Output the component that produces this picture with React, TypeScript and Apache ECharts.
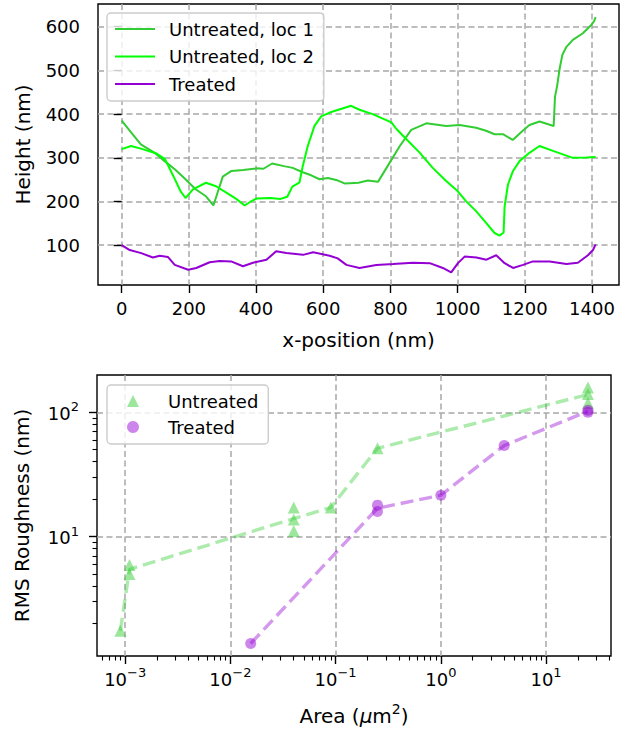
import React, { useEffect, useRef } from "react";
import * as echarts from "echarts";

// ---------- Top chart: height profiles ----------
const xTicksTop = [0, 200, 400, 600, 800, 1000, 1200, 1400];
const yTicksTop = [100, 200, 300, 400, 500, 600];

const untreatedLoc1: [number, number][] = [
  [0, 385], [28, 358], [57, 331], [97, 312], [127, 293], [158, 274], [190, 251],
  [220, 228], [251, 212], [273, 191], [287, 224], [301, 257], [327, 270], [362, 272],
  [402, 276], [422, 275], [448, 287], [483, 281], [509, 277], [539, 267], [564, 260],
  [589, 251], [614, 254], [644, 248], [665, 241], [705, 243], [733, 248], [763, 245],
  [798, 289], [828, 327], [862, 364], [907, 379], [966, 373], [1006, 375], [1055, 369],
  [1085, 362], [1110, 354], [1135, 354], [1164, 341], [1194, 362], [1214, 375],
  [1244, 383], [1286, 373], [1290, 440], [1296, 463], [1304, 505], [1312, 536],
  [1324, 554], [1343, 570], [1373, 585], [1398, 604], [1406, 612], [1411, 622],
];

const untreatedLoc2: [number, number][] = [
  [0, 320], [28, 327], [57, 321], [104, 310], [129, 297], [154, 258], [175, 224],
  [190, 208], [212, 228], [251, 243], [281, 235], [321, 216], [341, 206], [366, 191],
  [382, 199], [402, 207], [442, 208], [473, 206], [493, 211], [508, 234], [529, 243],
  [539, 281], [554, 327], [574, 373], [594, 395], [624, 405], [683, 419], [708, 410],
  [747, 400], [803, 381], [818, 366], [847, 343], [887, 312], [926, 277], [966, 247],
  [1000, 224], [1025, 201], [1055, 178], [1085, 151], [1110, 128], [1125, 122],
  [1137, 129], [1140, 189], [1150, 239], [1165, 270], [1185, 293], [1215, 312],
  [1244, 327], [1284, 316], [1343, 300], [1383, 301], [1411, 302],
];

const treatedProfile: [number, number][] = [
  [0, 100], [24, 89], [58, 82], [93, 72], [113, 76], [138, 73], [158, 55], [198, 44],
  [222, 48], [262, 61], [292, 64], [326, 63], [361, 52], [391, 60], [431, 67], [460, 86],
  [490, 82], [540, 78], [570, 84], [619, 76], [643, 70], [669, 55], [708, 48], [758, 55],
  [808, 57], [867, 60], [917, 59], [956, 48], [981, 38], [1001, 59], [1021, 74],
  [1056, 72], [1086, 67], [1115, 77], [1140, 59], [1165, 48], [1195, 55], [1224, 63],
  [1274, 63], [1324, 57], [1358, 60], [1388, 77], [1403, 89], [1411, 102],
];

// ---------- Bottom chart: RMS roughness vs area ----------
const untreatedArea = [0.0009, 0.0011, 0.0011, 0.04, 0.04, 0.04, 0.09, 0.25, 25, 25, 25];
const untreatedRms = [1.75, 5.9, 5.0, 17.1, 13.7, 11.1, 17.1, 51.3, 158, 140, 119];
const treatedArea = [0.0156, 0.25, 0.25, 1, 4, 25, 25];
const treatedRms = [1.38, 17.9, 15.9, 21.5, 54, 104, 100];

const areaMajorTicks = [0.001, 0.01, 0.1, 1, 10];
const rmsMajorTicks = [10, 100];
const minorMultipliers = [2, 3, 4, 5, 6, 7, 8, 9];
const areaDecades = [0.0001, 0.001, 0.01, 0.1, 1, 10];
const rmsDecades = [1, 10, 100];

const FONT = "DejaVu Sans";

function minorTicks(decades: number[]): number[] {
  const out: number[] = [];
  decades.forEach((d) => minorMultipliers.forEach((m) => out.push(+(d * m).toPrecision(6))));
  return out;
}

function groupMeans(xs: number[], ys: number[]): [number, number][] {
  const m = new Map<number, number[]>();
  xs.forEach((x, i) => {
    if (!m.has(x)) m.set(x, []);
    m.get(x)!.push(ys[i]);
  });
  return [...m.entries()]
    .sort((a, b) => a[0] - b[0])
    .map(([x, v]) => [x, v.reduce((s, a) => s + a, 0) / v.length] as [number, number]);
}

function pow10Label(v: number): string {
  const e = Math.round(Math.log10(v));
  const es = e < 0 ? "\u2212" + String(-e) : String(e);
  return `{b|10}{s|${es}}`;
}

const supRich = {
  b: { fontSize: 18, fontFamily: FONT, color: "#000", verticalAlign: "bottom" as const, lineHeight: 20 },
  s: { fontSize: 13, fontFamily: FONT, color: "#000", verticalAlign: "bottom" as const, lineHeight: 14, padding: [0, 0, 9, 0] },
};

const gridLine = { show: true, lineStyle: { color: "#a8a8a8", type: [6, 3.5], width: 1.5 } };
const tickStyle = { lineStyle: { color: "#000", width: 1.4 } };
const labelBase = { color: "#000", fontSize: 18, fontFamily: FONT };
const titleBase = { color: "#000", fontSize: 20, fontFamily: FONT };

export default function App() {
  const ref = useRef<HTMLDivElement>(null);

  useEffect(() => {
    if (!ref.current) return;
    const chart = echarts.init(ref.current, undefined, { renderer: "svg" });

    const untreatedMeans = groupMeans(untreatedArea, untreatedRms);
    const treatedMeans = groupMeans(treatedArea, treatedRms);
    const xMin = 0.00054, xMax = 41.4, yMin = 1.094, yMax = 199.5;
    const plain = (v: number) => String(v);

    const option: any = {
      animation: false,
      backgroundColor: "#fff",
      textStyle: { fontFamily: FONT },
      grid: [
        { left: 98, top: 4, width: 521, height: 281, show: true, borderColor: "#000", borderWidth: 1.4, containLabel: false, outerBoundsMode: "none" },
        { left: 97, top: 375, width: 514, height: 281, show: true, borderColor: "#000", borderWidth: 1.4, containLabel: false, outerBoundsMode: "none" },
      ],
      xAxis: [
        {
          type: "value", gridIndex: 0, min: -70.5, max: 1480.5, position: "bottom",
          axisLine: { show: false },
          axisTick: { show: true, length: 8, customValues: xTicksTop, ...tickStyle },
          axisLabel: { ...labelBase, margin: 14, customValues: xTicksTop, formatter: plain },
          splitLine: gridLine,
          name: "x-position (nm)", nameLocation: "middle", nameGap: 45,
          nameTextStyle: { ...titleBase },
        },
        {
          type: "log", gridIndex: 1, min: xMin, max: xMax, logBase: 10, position: "bottom",
          axisLine: { show: false },
          axisTick: { show: true, length: 8, customValues: areaMajorTicks, ...tickStyle },
          axisLabel: { ...labelBase, margin: 12, customValues: areaMajorTicks, formatter: pow10Label, rich: supRich },
          splitLine: gridLine,
          name: "{n|Area (}{i|\u03bc}{n|m}{s|2}{n|)}", nameLocation: "middle", nameGap: 48,
          nameTextStyle: {
            ...titleBase,
            rich: {
              n: { fontSize: 20, fontFamily: FONT, color: "#000", verticalAlign: "bottom", lineHeight: 22 },
              i: { fontSize: 20, fontFamily: FONT, color: "#000", fontStyle: "italic", verticalAlign: "bottom", lineHeight: 22 },
              s: { fontSize: 14, fontFamily: FONT, color: "#000", verticalAlign: "bottom", lineHeight: 15, padding: [0, 0, 10, 0] },
            },
          },
        },
        {
          type: "log", gridIndex: 1, min: xMin, max: xMax, logBase: 10, position: "bottom",
          axisLine: { show: false },
          axisTick: { show: true, length: 4.5, customValues: minorTicks(areaDecades), lineStyle: { color: "#000", width: 1.1 } },
          axisLabel: { show: false },
          splitLine: { show: false },
        },
      ],
      yAxis: [
        {
          type: "value", gridIndex: 0, min: 9, max: 652, position: "left",
          axisLine: { show: false },
          axisTick: { show: true, length: 8, customValues: yTicksTop, ...tickStyle },
          axisLabel: { ...labelBase, margin: 18, customValues: yTicksTop, formatter: plain },
          splitLine: gridLine,
          name: "Height (nm)", nameLocation: "middle", nameGap: 65, nameRotate: 90,
          nameTextStyle: { ...titleBase },
        },
        {
          type: "log", gridIndex: 1, min: yMin, max: yMax, logBase: 10, position: "left",
          axisLine: { show: false },
          axisTick: { show: true, length: 8, customValues: rmsMajorTicks, ...tickStyle },
          axisLabel: { ...labelBase, margin: 18, customValues: rmsMajorTicks, formatter: pow10Label, rich: supRich },
          splitLine: gridLine,
          name: "RMS Roughness (nm)", nameLocation: "middle", nameGap: 65, nameRotate: 90,
          nameTextStyle: { ...titleBase },
        },
        {
          type: "log", gridIndex: 1, min: yMin, max: yMax, logBase: 10, position: "left",
          axisLine: { show: false },
          axisTick: { show: true, length: 4.5, customValues: minorTicks(rmsDecades), lineStyle: { color: "#000", width: 1.1 } },
          axisLabel: { show: false },
          splitLine: { show: false },
        },
      ],
      legend: [
        {
          data: ["Untreated, loc 1", "Untreated, loc 2", "Treated"],
          orient: "vertical", left: 107, top: 13,
          padding: [6, 10, 7, 7], itemWidth: 40, itemHeight: 14, itemGap: 7.5,
          itemStyle: { opacity: 0 },
          backgroundColor: "rgba(255,255,255,0.8)", borderColor: "#cccccc", borderWidth: 1.4, borderRadius: 4,
          textStyle: { ...labelBase, lineHeight: 20, padding: [0, 0, 0, 9] },
        },
        {
          data: [
            { name: "Untreated (area)", icon: "triangle" },
            { name: "Treated (area)", icon: "circle" },
          ],
          formatter: (n: string) => n.replace(" (area)", ""),
          orient: "vertical", left: 107, top: 385,
          padding: [6, 10, 7, 20], itemWidth: 12, itemHeight: 12, itemGap: 6,
          backgroundColor: "rgba(255,255,255,0.8)", borderColor: "#cccccc", borderWidth: 1.4, borderRadius: 4,
          textStyle: { ...labelBase, lineHeight: 20, padding: [0, 0, 0, 24] },
        },
      ],
      series: [
        {
          name: "Untreated, loc 1", type: "line", xAxisIndex: 0, yAxisIndex: 0, data: untreatedLoc1,
          symbol: "none", showSymbol: false, lineStyle: { color: "#32cd32", width: 2 }, itemStyle: { color: "#32cd32" },
        },
        {
          name: "Untreated, loc 2", type: "line", xAxisIndex: 0, yAxisIndex: 0, data: untreatedLoc2,
          symbol: "none", showSymbol: false, lineStyle: { color: "#00ff00", width: 2 }, itemStyle: { color: "#00ff00" },
        },
        {
          name: "Treated", type: "line", xAxisIndex: 0, yAxisIndex: 0, data: treatedProfile,
          symbol: "none", showSymbol: false, lineStyle: { color: "#9400d3", width: 2 }, itemStyle: { color: "#9400d3" },
        },
        {
          name: "Untreated mean", type: "line", xAxisIndex: 1, yAxisIndex: 1, data: untreatedMeans,
          symbol: "none", showSymbol: false, silent: true, z: 2,
          lineStyle: { color: "rgba(50,205,50,0.4)", width: 3.4, type: [13, 6] },
        },
        {
          name: "Treated mean", type: "line", xAxisIndex: 1, yAxisIndex: 1, data: treatedMeans,
          symbol: "none", showSymbol: false, silent: true, z: 2,
          lineStyle: { color: "rgba(148,0,211,0.4)", width: 3.4, type: [13, 6] },
        },
        {
          name: "Untreated (area)", type: "scatter", xAxisIndex: 1, yAxisIndex: 1,
          data: untreatedArea.map((a, i) => [a, untreatedRms[i]]),
          symbol: "triangle", symbolSize: 12, z: 3,
          itemStyle: { color: "rgba(50,205,50,0.6)" },
        },
        {
          name: "Treated (area)", type: "scatter", xAxisIndex: 1, yAxisIndex: 1,
          data: treatedArea.map((a, i) => [a, treatedRms[i]]),
          symbol: "circle", symbolSize: 11, z: 3,
          itemStyle: { color: "rgba(148,0,211,0.6)" },
        },
      ],
    };

    chart.setOption(option);
    return () => chart.dispose();
  }, []);

  return <div ref={ref} style={{ width: 633, height: 734, position: "absolute", left: 0, top: 0 }} />;
}
